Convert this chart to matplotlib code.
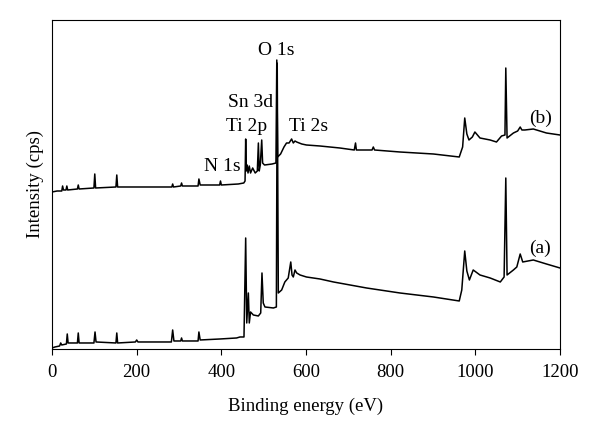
import matplotlib
matplotlib.use("Agg")
import matplotlib.pyplot as plt

plt.rcParams['font.family'] = ['Liberation Serif', 'DejaVu Serif']

# survey spectrum (b), binding energy (eV) and intensity (arb.)
energy_b = [0, 12, 23, 25, 27, 33, 35, 37, 60, 62, 64, 99, 101, 103, 151, 153,
            155, 283, 285, 287, 304, 306, 308, 345, 347, 350, 396, 398, 400,
            440, 453, 456, 457.5, 459, 461, 463, 466, 469, 474, 480, 485,
            487.5, 489.5, 492, 495.4, 497.5, 502, 520, 529, 531, 533, 540, 548,
            554, 560, 566, 570, 574, 578, 590, 601, 633, 680, 714, 717, 719,
            756, 759, 762, 822, 901, 962, 970, 975, 980, 985, 993, 999, 1011,
            1035, 1050, 1062, 1070, 1072, 1075, 1090, 1100, 1106, 1110, 1117,
            1137, 1168, 1200]
intensity_b = [157, 158, 158, 163, 159, 159, 163, 159, 160, 164, 160, 161, 175,
               161, 162, 174, 162, 162, 165, 162, 163, 166, 163, 163, 170, 164,
               164, 168, 164, 165, 166, 168, 210, 178, 184, 176, 183, 176, 181,
               176, 178, 206, 178, 184, 209, 186, 184, 185, 186, 289, 192, 195,
               202, 206, 206, 210, 206, 208, 207, 205, 204, 203, 201, 199, 206,
               199, 199, 202, 199, 197, 195, 192, 202, 231, 215, 209, 212, 217,
               211, 209, 207, 213, 214, 281, 211, 216, 218, 222, 219, 219, 220,
               216, 214]

# survey spectrum (a)
energy_a = [0, 7, 18, 20.5, 23, 34, 36, 38, 60, 62, 64, 99, 101.6, 104, 151,
            153, 155, 197, 200, 203, 282, 285, 288, 304, 306, 308, 345, 347,
            350, 397, 436, 444, 453.5, 457.5, 460, 463.8, 466, 469, 475.6,
            487.4, 493, 496, 499, 503, 523, 530, 532, 534.6, 542.5, 550, 558,
            564, 567, 570, 574, 578, 586, 601, 633, 665, 743, 822, 901, 962,
            968, 975, 980, 986, 995, 1011, 1035, 1059, 1068, 1072, 1075, 1090,
            1098, 1106, 1112, 1137, 1168, 1200]
intensity_a = [1, 2, 3, 6, 4, 5, 15, 6, 6, 16, 6, 6, 17, 7, 6, 16, 6, 7, 9, 7,
               7, 19, 8, 8, 11, 8, 8, 17, 9, 10, 11, 12, 12, 111, 26, 56, 26,
               37, 34, 33, 36, 76, 46, 42, 41, 42, 286, 56, 59, 67, 71, 87, 74,
               72, 79, 76, 74, 72, 70, 67, 61, 56, 52, 48, 59, 98, 78, 69, 79,
               74, 71, 67, 72, 171, 74, 79, 82, 95, 87, 89, 85, 81]

peak_labels = ['O 1s', 'Sn 3d', 'Ti 2p', 'Ti 2s', 'N 1s']
label_x = [529, 468, 460, 607, 402]
label_y = [299, 247, 222, 222, 182]

fig = plt.figure(figsize=(6, 4.34), dpi=100)
ax = fig.add_axes([0.0867, 0.1959, 0.8466, 0.758])

ax.plot(energy_b, intensity_b, color='black', lw=1.1)
ax.plot(energy_a, intensity_a, color='black', lw=1.1)

for name, x, y in zip(peak_labels, label_x, label_y):
    ax.text(x, y, name, ha='center', va='center', fontsize=14)
ax.text(1155, 231, '(b)', ha='center', va='center', fontsize=14)
ax.text(1152, 101, '(a)', ha='center', va='center', fontsize=14)

ax.set_xlim(0, 1200)
ax.set_ylim(0, 329)
ax.set_xticks([0, 200, 400, 600, 800, 1000, 1200])
ax.set_yticks([])
ax.tick_params(axis='x', direction='out', length=4, pad=7, labelsize=13.5)
ax.set_xlabel('Binding energy (eV)', fontsize=13.5, labelpad=12)
ax.set_ylabel('Intensity (cps)', fontsize=13.5, labelpad=6)

fig.savefig('out.png', dpi=100)
